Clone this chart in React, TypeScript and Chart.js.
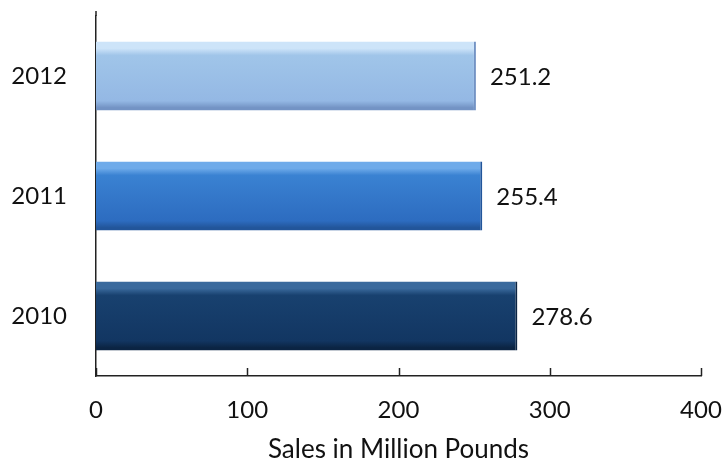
import React, { useEffect, useRef } from "react";
import { Chart, registerables } from "chart.js";

Chart.register(...registerables);

const categories = ["2012", "2011", "2010"];
const salesValues = [251.2, 255.4, 278.6];
const valueLabels = ["251.2", "255.4", "278.6"];
const xTicks = [0, 100, 200, 300, 400];
const axisTitle = "Sales in Million Pounds";

const barPalettes = [
  { top: "#CDE4F9", mid: "#A0C5E9", low: "#94B8E4", edge: "#7393C4" },
  { top: "#6FABEA", mid: "#3A82D2", low: "#2D6CC0", edge: "#22559A" },
  { top: "#3A6A9D", mid: "#18416F", low: "#123662", edge: "#0B2443" },
];

const FONT = "Lato, 'Open Sans', sans-serif";
const BAR_PCT = 0.575;

export default function App() {
  const ref = useRef<HTMLCanvasElement | null>(null);

  useEffect(() => {
    if (!ref.current) return;

    const tickMarks = {
      id: "tickMarks",
      afterDraw(chart: any) {
        const { ctx, scales, chartArea } = chart;
        const x = scales.x;
        ctx.save();
        ctx.strokeStyle = "#222";
        ctx.lineWidth = 1.5;
        xTicks.forEach((v) => {
          const px = Math.round(x.getPixelForValue(v)) + 0.5;
          ctx.beginPath();
          ctx.moveTo(px, chartArea.bottom);
          ctx.lineTo(px, chartArea.bottom - 8);
          ctx.stroke();
        });
        const lx = chartArea.left;
        ctx.beginPath();
        ctx.moveTo(lx, chartArea.top);
        ctx.lineTo(lx, chartArea.top - 5);
        ctx.stroke();
        ctx.restore();
      },
    };

    const dataLabels = {
      id: "dataLabels",
      afterDatasetsDraw(chart: any) {
        const { ctx } = chart;
        const meta = chart.getDatasetMeta(0);
        ctx.save();
        ctx.font = `24px ${FONT}`;
        ctx.fillStyle = "#111";
        ctx.textAlign = "left";
        ctx.textBaseline = "middle";
        meta.data.forEach((bar: any, i: number) => {
          ctx.fillText(valueLabels[i], bar.x + 14, bar.y + 1);
        });
        ctx.restore();
      },
    };

    const bg = (c: any) => {
      const chart = c.chart;
      const pal = barPalettes[c.dataIndex] || barPalettes[0];
      const area = chart.chartArea;
      const y = chart.scales && chart.scales.y;
      if (!area || !y) return pal.mid;
      const center = y.getPixelForValue(c.dataIndex);
      const band = Math.abs(y.getPixelForValue(1) - y.getPixelForValue(0));
      const half = (band * BAR_PCT) / 2;
      if (!isFinite(center) || !isFinite(half) || half <= 0) return pal.mid;
      const g = chart.ctx.createLinearGradient(0, center - half, 0, center + half);
      g.addColorStop(0, pal.top);
      g.addColorStop(0.1, pal.top);
      g.addColorStop(0.2, pal.mid);
      g.addColorStop(0.86, pal.low);
      g.addColorStop(0.96, pal.edge);
      g.addColorStop(1, pal.edge);
      return g;
    };

    const chart = new Chart(ref.current, {
      type: "bar",
      data: {
        labels: categories,
        datasets: [
          {
            data: salesValues,
            backgroundColor: bg,
            borderColor: barPalettes.map((p) => p.edge),
            borderWidth: { top: 0, right: 2, bottom: 0, left: 0 },
            borderSkipped: false,
            barPercentage: BAR_PCT,
            categoryPercentage: 1,
          },
        ],
      },
      options: {
        indexAxis: "y",
        animation: false,
        responsive: false,
        layout: { padding: { top: 16, right: 23, bottom: 0, left: 0 } },
        plugins: {
          legend: { display: false },
          tooltip: { enabled: false },
          title: { display: false },
        },
        scales: {
          x: {
            type: "linear",
            min: 0,
            max: 400,
            afterFit(scale: any) {
              scale.height = 87;
              scale.paddingLeft = 0;
              scale.paddingRight = 0;
            },
            ticks: {
              stepSize: 100,
              padding: 20,
              color: "#111",
              font: { family: FONT, size: 24 },
            },
            grid: { display: false, drawTicks: false },
            border: { display: true, color: "#222", width: 1.5 },
            title: {
              display: true,
              text: axisTitle,
              color: "#111",
              font: { family: FONT, size: 26, lineHeight: 1.0 },
              padding: { top: 0, bottom: 0 },
            },
          },
          y: {
            type: "category",
            afterFit(scale: any) {
              scale.width = 96;
              scale.paddingTop = 0;
              scale.paddingBottom = 0;
            },
            ticks: {
              padding: 29,
              color: "#111",
              font: { family: FONT, size: 24 },
            },
            grid: { display: false, drawTicks: false },
            border: { display: true, color: "#222", width: 1.5 },
          },
        },
      },
      plugins: [tickMarks, dataLabels],
    });

    return () => chart.destroy();
  }, []);

  return (
    <div style={{ position: "absolute", left: 0, top: 0, width: 724, height: 463, background: "#fff" }}>
      <canvas ref={ref} width={724} height={463} style={{ display: "block" }} />
    </div>
  );
}
